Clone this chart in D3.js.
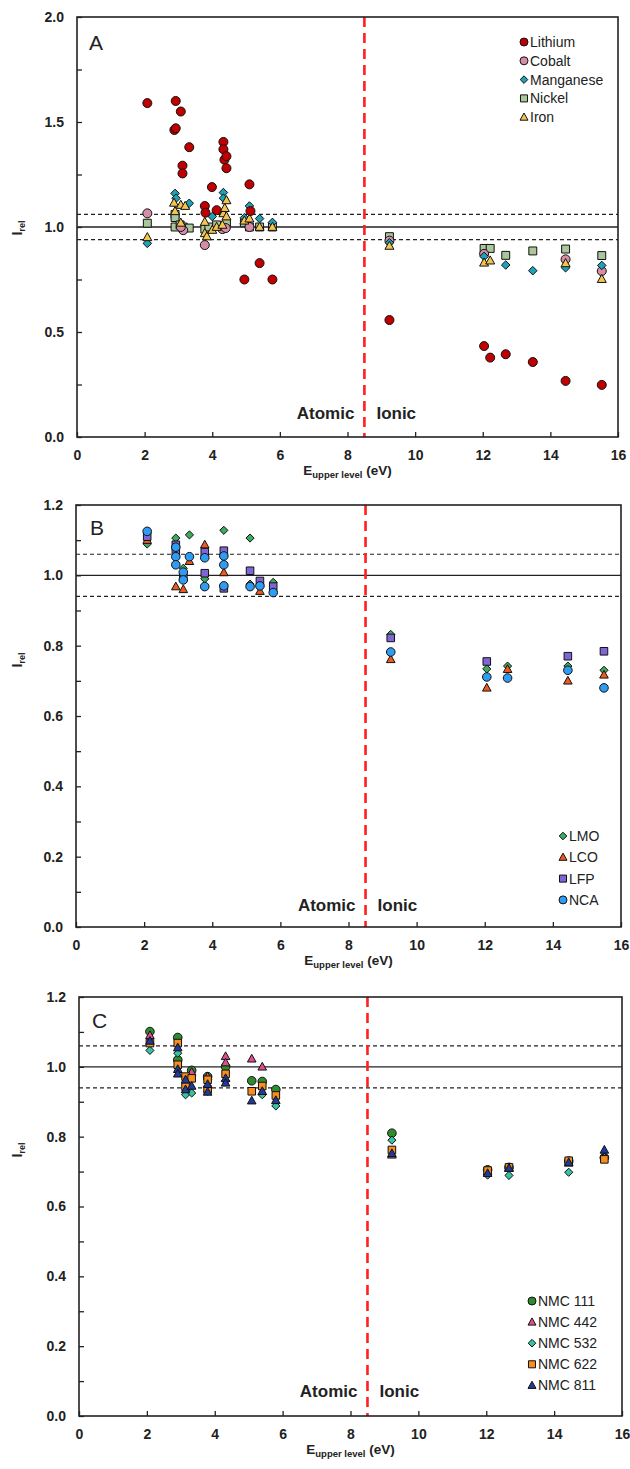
<!DOCTYPE html>
<html><head><meta charset="utf-8">
<script src="https://cdn.jsdelivr.net/npm/d3@7"></script>
<style>
body{margin:0;background:#fff;}
svg{display:block;}
text{font-family:"Liberation Sans",Arial,sans-serif;}
</style>
</head><body>
<svg id="chart" width="630" height="1469"></svg>
<script>
// ---------- data ----------
const xTickValues = [0,2,4,6,8,10,12,14,16];
const boundaryE = 8.5;
const refSolid = 1.0;
const refDashed = [1.06, 0.94];

// Panel A (elements)
const lithium = [[2.08,1.59],[2.92,1.60],[2.88,1.462],[2.92,1.47],[3.07,1.55],[3.12,1.292],[3.12,1.255],[3.32,1.38],[3.78,1.10],[3.80,1.068],[3.99,1.19],[4.13,1.08],[4.33,1.405],[4.33,1.37],[4.36,1.32],[4.42,1.337],[4.42,1.28],[4.95,0.75],[5.10,1.203],[5.13,1.076],[5.40,0.828],[5.78,0.75],[9.24,0.557],[12.04,0.433],[12.22,0.378],[12.68,0.394],[13.48,0.357],[14.45,0.267],[15.52,0.248]];
const cobalt = [[2.08,1.065],[3.14,0.985],[3.07,1.0],[3.78,0.914],[4.30,0.99],[4.40,0.995],[5.10,1.0],[9.24,0.935],[12.04,0.872],[14.45,0.846],[15.52,0.79]];
const manganese = [[2.08,0.922],[2.90,1.16],[2.93,1.137],[3.32,1.113],[4.00,1.05],[4.33,1.164],[4.33,1.137],[4.95,1.044],[5.10,1.10],[5.40,1.04],[5.78,1.022],[9.24,0.925],[12.04,0.86],[12.68,0.819],[13.48,0.792],[14.45,0.806],[15.52,0.817]];
const nickel = [[2.08,1.018],[2.90,1.06],[2.90,1.045],[2.90,1.0],[3.05,1.01],[3.14,1.0],[3.32,0.995],[3.78,0.99],[3.90,1.0],[4.13,1.01],[4.42,1.02],[4.95,1.02],[5.10,1.0],[5.40,1.0],[5.78,1.0],[9.24,0.954],[12.04,0.898],[12.22,0.898],[12.68,0.865],[13.48,0.886],[14.45,0.895],[15.52,0.864]];
const iron = [[2.08,0.951],[2.87,1.115],[2.90,1.075],[3.07,1.105],[3.07,1.02],[3.20,1.10],[3.78,1.024],[3.78,0.97],[3.84,0.955],[4.00,0.986],[4.13,1.0],[4.30,1.01],[4.33,1.065],[4.37,1.09],[4.42,1.127],[4.42,1.05],[4.95,1.03],[5.10,1.04],[5.40,1.0],[5.78,1.0],[9.24,0.91],[12.04,0.83],[12.22,0.84],[14.45,0.827],[15.52,0.752]];

// Panel B (cathode types)
const lmo = [[2.09,1.089],[2.93,1.106],[3.15,1.02],[3.33,1.115],[3.78,0.99],[4.34,1.128],[5.11,1.106],[5.11,0.975],[5.79,0.98],[9.24,0.832],[12.06,0.734],[12.67,0.742],[14.44,0.742],[15.50,0.73]];
const lco = [[2.09,1.10],[2.93,0.968],[3.15,0.96],[3.33,1.04],[3.78,1.087],[4.34,1.008],[5.40,0.955],[9.24,0.761],[12.06,0.68],[12.67,0.733],[14.44,0.70],[15.50,0.717]];
const lfp = [[2.09,1.11],[2.93,1.087],[2.93,1.07],[3.15,0.995],[3.78,1.066],[3.78,1.006],[4.34,1.07],[4.34,0.963],[5.11,1.013],[5.40,0.984],[5.79,0.968],[9.24,0.822],[12.06,0.755],[14.44,0.77],[15.50,0.784]];
const nca = [[2.09,1.125],[2.93,1.08],[2.93,1.053],[2.93,1.03],[3.15,1.009],[3.15,0.987],[3.33,1.053],[3.78,1.05],[3.78,0.968],[4.34,1.055],[4.34,1.03],[4.34,0.97],[5.11,0.968],[5.40,0.97],[5.79,0.951],[9.24,0.782],[12.06,0.711],[12.67,0.708],[14.44,0.73],[15.50,0.68]];

// Panel C (NMC)
const nmc111 = [[2.09,1.101],[2.91,1.084],[2.91,1.02],[3.32,0.99],[3.79,0.972],[4.32,1.0],[5.09,0.96],[5.40,0.958],[5.80,0.935],[9.22,0.81],[12.04,0.705],[12.67,0.712],[14.43,0.73],[15.48,0.74]];
const nmc442 = [[2.09,1.09],[3.32,0.985],[3.79,0.972],[4.32,1.03],[4.32,1.012],[5.09,1.023],[5.40,1.0],[9.22,0.748],[12.04,0.70],[12.67,0.71],[14.43,0.725],[15.48,0.745]];
const nmc532 = [[2.09,1.047],[2.91,1.039],[3.14,0.92],[3.32,0.925],[3.79,0.93],[4.32,0.96],[5.40,0.92],[5.80,0.888],[9.22,0.79],[12.04,0.69],[12.67,0.689],[14.43,0.698],[15.48,0.74]];
const nmc622 = [[2.09,1.068],[2.91,1.068],[2.91,1.006],[3.14,0.972],[3.14,0.943],[3.32,0.967],[3.79,0.963],[3.79,0.935],[4.32,0.98],[5.09,0.93],[5.40,0.945],[5.80,0.918],[9.22,0.762],[12.04,0.703],[12.67,0.712],[14.43,0.731],[15.48,0.735]];
const nmc811 = [[2.09,1.074],[2.91,1.055],[2.91,0.993],[2.91,0.98],[3.14,0.963],[3.14,0.935],[3.32,0.945],[3.79,0.95],[3.79,0.928],[4.32,0.967],[4.32,0.954],[5.09,0.903],[5.40,0.93],[5.80,0.904],[9.22,0.752],[12.04,0.695],[12.67,0.71],[14.43,0.726],[15.48,0.762]];

// ---------- helpers ----------
function shapePath(shape, s) {
  switch (shape) {
    case 'circle': return `M${s},0A${s},${s} 0 1,1 ${-s},0A${s},${s} 0 1,1 ${s},0Z`;
    case 'square': { const h = s*0.88; return `M${-h},${-h}H${h}V${h}H${-h}Z`; }
    case 'diamond': { const d = s*0.95; return `M0,${-d}L${d},0L0,${d}L${-d},0Z`; }
    case 'triangle': { const w = s*1.0, t = s*1.05, b = s*0.75; return `M0,${-t}L${w},${b}L${-w},${b}Z`; }
  }
}

const svg = d3.select('#chart');

function drawPanel(cfg) {
  const x = d3.scaleLinear().domain([0,16]).range([cfg.left, cfg.right]);
  const y = d3.scaleLinear().domain([0,cfg.yMax]).range([cfg.bottom, cfg.top]);
  const g = svg.append('g');

  // reference lines
  g.append('line').attr('x1',cfg.left).attr('x2',cfg.right)
    .attr('y1',y(refSolid)).attr('y2',y(refSolid))
    .attr('stroke','#222').attr('stroke-width',1.4);
  refDashed.forEach(v => {
    g.append('line').attr('x1',cfg.left).attr('x2',cfg.right)
      .attr('y1',y(v)).attr('y2',y(v))
      .attr('stroke','#222').attr('stroke-width',1.2).attr('stroke-dasharray','4,3');
  });
  g.append('line').attr('x1',x(boundaryE)).attr('x2',x(boundaryE))
    .attr('y1',cfg.top).attr('y2',cfg.bottom)
    .attr('stroke','#FF1F1F').attr('stroke-width',2.6).attr('stroke-dasharray','10,6');

  // points (draw order)
  cfg.drawOrder.forEach(i => {
    const s = cfg.series[i];
    g.append('g').selectAll('path').data(s.data).join('path')
      .attr('d', shapePath(s.shape, cfg.size))
      .attr('transform', d => `translate(${x(d[0])},${y(d[1])})`)
      .attr('fill', s.color).attr('stroke','#111').attr('stroke-width',1);
  });

  // frame
  g.append('rect').attr('x',cfg.left).attr('y',cfg.top)
    .attr('width',cfg.right-cfg.left).attr('height',cfg.bottom-cfg.top)
    .attr('fill','none').attr('stroke','#222').attr('stroke-width',1.6);

  // axes
  const xAxis = d3.axisBottom(x).tickValues(xTickValues).tickSizeInner(-5).tickSizeOuter(0).tickPadding(13)
    .tickFormat(d3.format('d'));
  const gx = g.append('g').attr('transform',`translate(0,${cfg.bottom})`).call(xAxis);
  const yAxis = d3.axisLeft(y).tickValues(cfg.yTicks).tickSizeInner(-5).tickSizeOuter(0).tickPadding(13)
    .tickFormat(d => cfg.yLabels.some(v => Math.abs(v-d)<1e-9) ? d.toFixed(1) : '');
  const gy = g.append('g').attr('transform',`translate(${cfg.left},0)`).call(yAxis);
  [gx, gy].forEach(a => {
    a.select('.domain').remove();
    a.selectAll('.tick line').attr('stroke','#222').attr('stroke-width',1.3);
    a.selectAll('.tick text').attr('fill','#222').attr('font-size',14).attr('font-weight','bold')
      .attr('font-family','"Liberation Sans",Arial,sans-serif');
  });

  // axis titles
  const xt = g.append('text').attr('x',(cfg.left+cfg.right)/2).attr('y',cfg.bottom+38)
    .attr('text-anchor','middle').attr('font-size',13.5).attr('font-weight','bold').attr('fill','#222');
  xt.append('tspan').text('E');
  xt.append('tspan').attr('font-size',9.5).attr('dy',3).text('upper level');
  xt.append('tspan').attr('dy',-3).text(' (eV)');

  const yt = g.append('text').attr('transform',`translate(${cfg.yTitleX},${cfg.yTitleY}) rotate(-90)`)
    .attr('text-anchor','middle').attr('font-size',14).attr('font-weight','bold').attr('fill','#222');
  yt.append('tspan').text('I');
  yt.append('tspan').attr('font-size',9).attr('dy',3).text('rel');

  // panel letter
  g.append('text').attr('x',cfg.letterX).attr('y',cfg.letterY).attr('font-size',21).attr('fill','#222').text(cfg.letter);

  // Atomic / Ionic
  g.append('text').attr('x',x(boundaryE)-10).attr('y',cfg.regionY).attr('text-anchor','end')
    .attr('font-size',17).attr('font-weight','bold').attr('fill','#222').text('Atomic');
  g.append('text').attr('x',x(boundaryE)+12).attr('y',cfg.regionY)
    .attr('font-size',17).attr('font-weight','bold').attr('fill','#222').text('Ionic');

  // legend
  cfg.series.forEach((s,i) => {
    const ly = cfg.legend.y + i*cfg.legend.dy;
    g.append('path').attr('d', shapePath(s.shape, cfg.legend.size))
      .attr('transform',`translate(${cfg.legend.x},${ly})`)
      .attr('fill', s.color).attr('stroke','#111').attr('stroke-width',1);
    g.append('text').attr('x',cfg.legend.x+6).attr('y',ly).attr('dy','0.36em')
      .attr('font-size',cfg.legend.fs).attr('fill','#222').text(s.name);
  });
}

drawPanel({
  letter:'A', letterX:89, letterY:50, left:77, right:618, top:17, bottom:437, yMax:2.0,
  yTicks: d3.range(0, 2.0001, 0.25), yLabels:[0,0.5,1.0,1.5,2.0],
  yTitleX:22, yTitleY:228, regionY:419, size:4.5,
  legend:{x:524, y:42, dy:18.8, fs:14, size:4.0},
  series:[
    {name:'Lithium', data:lithium, shape:'circle', color:'#C00000'},
    {name:'Cobalt', data:cobalt, shape:'circle', color:'#D68DA8'},
    {name:'Manganese', data:manganese, shape:'diamond', color:'#1FA2B8'},
    {name:'Nickel', data:nickel, shape:'square', color:'#A9C79A'},
    {name:'Iron', data:iron, shape:'triangle', color:'#F4C54E'}
  ],
  drawOrder:[3,1,2,4,0]
});

drawPanel({
  letter:'B', letterX:90, letterY:535, left:76, right:621, top:505, bottom:927, yMax:1.2,
  yTicks: d3.range(0, 1.2001, 0.1), yLabels:[0,0.2,0.4,0.6,0.8,1.0,1.2],
  yTitleX:22, yTitleY:660, regionY:911, size:4.3,
  legend:{x:563, y:836, dy:21.3, fs:14, size:4.0},
  series:[
    {name:'LMO', data:lmo, shape:'diamond', color:'#3DAA5E'},
    {name:'LCO', data:lco, shape:'triangle', color:'#EE5A1E'},
    {name:'LFP', data:lfp, shape:'square', color:'#7F66D4'},
    {name:'NCA', data:nca, shape:'circle', color:'#2F9BF2'}
  ],
  drawOrder:[0,1,2,3]
});

drawPanel({
  letter:'C', letterX:92, letterY:1028, left:79, right:622, top:997, bottom:1416, yMax:1.2,
  yTicks: d3.range(0, 1.2001, 0.1), yLabels:[0,0.2,0.4,0.6,0.8,1.0,1.2],
  yTitleX:22, yTitleY:1150, regionY:1397, size:4.3,
  legend:{x:532, y:1301, dy:21.1, fs:14, size:4.0},
  series:[
    {name:'NMC 111', data:nmc111, shape:'circle', color:'#2E8B2E'},
    {name:'NMC 442', data:nmc442, shape:'triangle', color:'#D9508E'},
    {name:'NMC 532', data:nmc532, shape:'diamond', color:'#34C4A2'},
    {name:'NMC 622', data:nmc622, shape:'square', color:'#F78E1E'},
    {name:'NMC 811', data:nmc811, shape:'triangle', color:'#22399A'}
  ],
  drawOrder:[0,1,2,3,4]
});
</script>
</body></html>
